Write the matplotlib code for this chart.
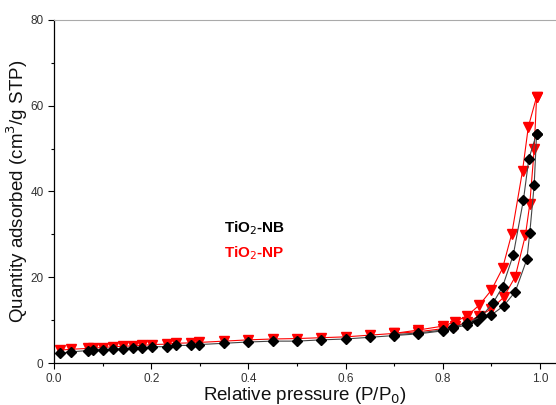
import numpy as np
import matplotlib
matplotlib.use('Agg')
import matplotlib.pyplot as plt
from matplotlib.ticker import MultipleLocator

plt.rcParams['font.family'] = ['Liberation Sans', 'DejaVu Sans']

# TiO2-NB (black diamonds)
nb_ads_x = [0.012, 0.035, 0.069, 0.081, 0.10, 0.122, 0.141, 0.162, 0.182, 0.201,
            0.232, 0.25, 0.282, 0.299, 0.35, 0.40, 0.45, 0.50, 0.55, 0.60,
            0.65, 0.70, 0.75, 0.80, 0.82, 0.85, 0.87, 0.90, 0.925, 0.949,
            0.973, 0.979, 0.988, 0.993]
nb_ads_y = [2.3, 2.6, 2.9, 3.0, 3.1, 3.2, 3.3, 3.5, 3.5, 3.8,
            3.8, 4.1, 4.1, 4.3, 4.6, 4.9, 5.1, 5.1, 5.4, 5.6,
            6.0, 6.4, 6.8, 7.5, 8.1, 8.9, 9.8, 11.2, 13.3, 16.6,
            24.2, 30.4, 41.5, 53.5]
nb_des_x = [0.993, 0.977, 0.966, 0.945, 0.923, 0.904, 0.88, 0.85, 0.82, 0.80, 0.75, 0.70]
nb_des_y = [53.5, 47.6, 38.1, 25.2, 17.8, 14.1, 10.9, 9.3, 8.3, 7.7, 7.0, 6.6]

# TiO2-NP (red triangles)
np_ads_x = [0.012, 0.035, 0.069, 0.081, 0.10, 0.122, 0.141, 0.162, 0.182, 0.201,
            0.232, 0.25, 0.282, 0.299, 0.35, 0.40, 0.45, 0.50, 0.55, 0.60,
            0.65, 0.70, 0.75, 0.80, 0.825, 0.85, 0.875, 0.90, 0.925, 0.949,
            0.970, 0.979, 0.988, 0.993]
np_ads_y = [3.0, 3.2, 3.4, 3.5, 3.6, 3.8, 3.9, 4.0, 4.1, 4.3,
            4.4, 4.6, 4.7, 4.8, 5.1, 5.4, 5.6, 5.7, 5.9, 6.1,
            6.5, 6.9, 7.3, 8.0, 8.6, 9.5, 11.0, 12.6, 15.3, 20.1,
            29.8, 37.1, 49.8, 62.1]
np_des_x = [0.993, 0.976, 0.964, 0.942, 0.923, 0.90, 0.875, 0.85, 0.825, 0.80, 0.75, 0.70]
np_des_y = [62.1, 55.1, 44.8, 30.2, 22.1, 17.0, 13.5, 11.0, 9.6, 8.6, 7.7, 6.9]

fig = plt.figure(figsize=(5.56, 4.05), dpi=100)
ax = fig.add_axes([54 / 556, 42 / 405, 502 / 556, 343 / 405])

red = '#ff0000'
for x, y in ((np_ads_x, np_ads_y), (np_des_x, np_des_y)):
    ax.plot(x, y, color=red, lw=0.8, marker='v', ms=6.5, mfc=red, mec=red, zorder=2)
for x, y in ((nb_ads_x, nb_ads_y), (nb_des_x, nb_des_y)):
    ax.plot(x, y, color='#444444', lw=0.8, marker='D', ms=5.5, mfc='black', mec='black', zorder=3)

ax.set_xlim(0, 502 / 486)
ax.set_ylim(0, 80)
ax.xaxis.set_major_locator(MultipleLocator(0.2))
ax.xaxis.set_minor_locator(MultipleLocator(0.1))
ax.yaxis.set_major_locator(MultipleLocator(20))
ax.yaxis.set_minor_locator(MultipleLocator(10))
ax.set_xticks([0.0, 0.2, 0.4, 0.6, 0.8, 1.0])
ax.set_xticklabels(['0.0', '0.2', '0.4', '0.6', '0.8', '1.0'])

ax.tick_params(which='major', direction='out', length=4, width=0.8, labelsize=8.5,
               labelcolor='#333333', top=False, right=False)
ax.tick_params(which='minor', direction='out', length=2.5, width=0.8, top=False, right=False)
ax.spines['right'].set_visible(False)
ax.spines['top'].set_color('#aaaaaa')
ax.spines['top'].set_linewidth(0.8)
ax.spines['left'].set_linewidth(0.9)
ax.spines['bottom'].set_linewidth(0.9)

ax.set_xlabel('Relative pressure (P/P$_0$)', fontsize=13.5, labelpad=0, color='#111111')
ax.set_ylabel('Quantity adsorbed (cm$^3$/g STP)', fontsize=13.5, labelpad=0, color='#111111')

ax.text(0.35, 30.5, 'TiO$_2$-NB', fontsize=11, fontweight='bold', color='black')
ax.text(0.35, 24.6, 'TiO$_2$-NP', fontsize=11, fontweight='bold', color=red)

fig.savefig('out.png', dpi=100)
